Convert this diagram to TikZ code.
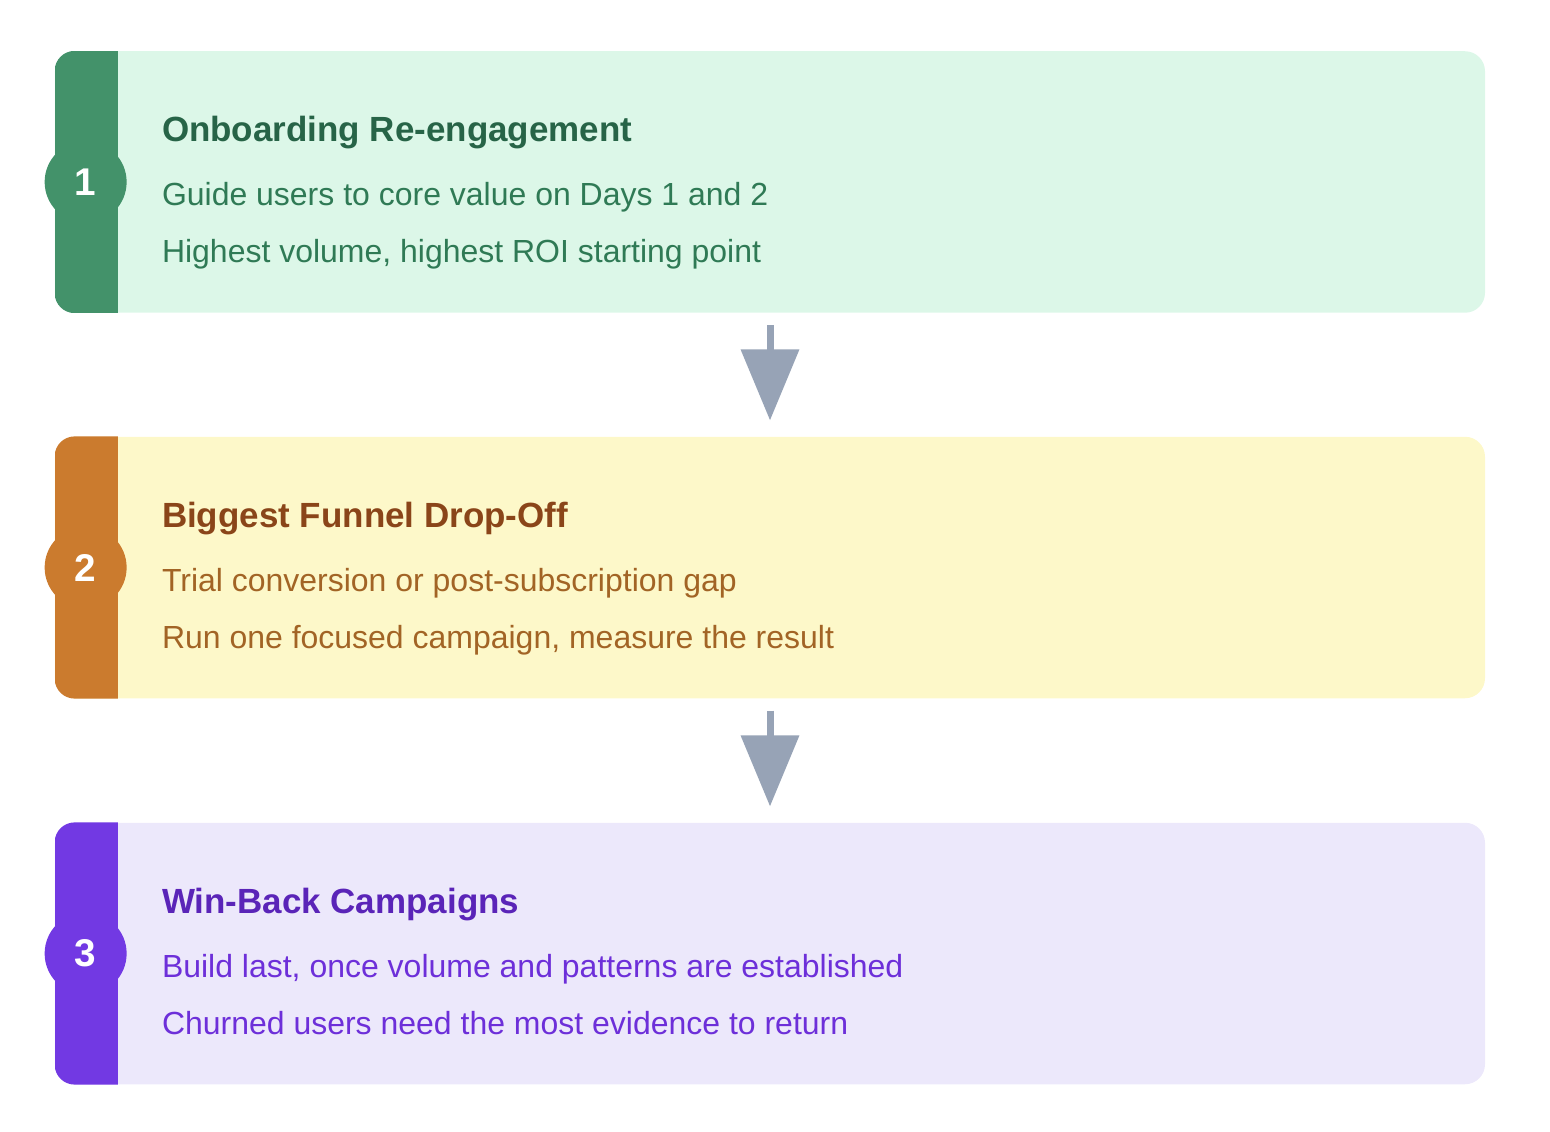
\documentclass[tikz,border=0pt]{standalone}
\usepackage{fontspec}
\setmainfont{Liberation Sans}
\usetikzlibrary{arrows.meta}

\definecolor{greenbg}{HTML}{DCF7E8}
\definecolor{greenbar}{HTML}{43926A}
\definecolor{greenhead}{HTML}{276447}
\definecolor{greentext}{HTML}{2F7A55}
\definecolor{yellowbg}{HTML}{FDF8C9}
\definecolor{orangebar}{HTML}{CB7B2E}
\definecolor{orangehead}{HTML}{8A4519}
\definecolor{orangetext}{HTML}{A26425}
\definecolor{purplebg}{HTML}{ECE8FB}
\definecolor{purplebar}{HTML}{7239E3}
\definecolor{purplehead}{HTML}{5A24B8}
\definecolor{purpletext}{HTML}{6D2FD9}
\definecolor{arrowgray}{HTML}{97A3B6}

\tikzset{
  card/.style={minimum width=28.6cm, minimum height=5.23cm, rounded corners=0.4cm, inner sep=0pt},
  badge/.style={circle, minimum size=1.64cm, inner sep=0pt, text=white,
    font=\fontsize{22}{26}\selectfont\bfseries},
  stagehead/.style={anchor=base west, inner sep=0pt, font=\fontsize{19.9}{24}\selectfont\bfseries},
  stageline/.style={anchor=base west, inner sep=0pt, font=\fontsize{18.2}{22}\selectfont},
  flow/.style={draw=arrowgray, line width=0.14cm,
    -{Triangle[length=1.42cm, width=1.14cm]}}
}

\begin{document}
\begin{tikzpicture}
\useasboundingbox (0,0) rectangle (31,-22.64);

\node[card, fill=greenbg] (c1) at (15.4,-3.64) {};
\node[card, fill=yellowbg] (c2) at (15.4,-11.35) {};
\node[card, fill=purplebg] (c3) at (15.4,-19.07) {};

\begin{scope}
    \clip[rounded corners=0.4cm] (c1.north west) rectangle (c1.south east);
    \fill[greenbar] (c1.north west) rectangle ([xshift=1.26cm]c1.south west);
\end{scope}
\begin{scope}
    \clip[rounded corners=0.4cm] (c2.north west) rectangle (c2.south east);
    \fill[orangebar] (c2.north west) rectangle ([xshift=1.26cm]c2.south west);
\end{scope}
\begin{scope}
    \clip[rounded corners=0.4cm] (c3.north west) rectangle (c3.south east);
    \fill[purplebar] (c3.north west) rectangle ([xshift=1.26cm]c3.south west);
\end{scope}

\node[badge, fill=greenbar] (b1) at ([xshift=0.62cm]c1.west) {1};
\node[badge, fill=orangebar] (b2) at ([xshift=0.62cm]c2.west) {2};
\node[badge, fill=purplebar] (b3) at ([xshift=0.62cm]c3.west) {3};

% stage 1
\node[stagehead, text=greenhead] (h1) at ([shift={(2.14,0.8)}]c1.west) {Onboarding Re-engagement};
\node[stageline, text=greentext] (l1a) at ([shift={(2.14,-0.48)}]c1.west) {Guide users to core value on Days 1 and 2};
\node[stageline, text=greentext] (l1b) at ([shift={(2.14,-1.62)}]c1.west) {Highest volume, highest ROI starting point};

% stage 2
\node[stagehead, text=orangehead] (h2) at ([shift={(2.14,0.8)}]c2.west) {Biggest Funnel Drop-Off};
\node[stageline, text=orangetext] (l2a) at ([shift={(2.14,-0.48)}]c2.west) {Trial conversion or post-subscription gap};
\node[stageline, text=orangetext] (l2b) at ([shift={(2.14,-1.62)}]c2.west) {Run one focused campaign, measure the result};

% stage 3
\node[stagehead, text=purplehead] (h3) at ([shift={(2.14,0.8)}]c3.west) {Win-Back Campaigns};
\node[stageline, text=purpletext] (l3a) at ([shift={(2.14,-0.48)}]c3.west) {Build last, once volume and patterns are established};
\node[stageline, text=purpletext] (l3b) at ([shift={(2.14,-1.62)}]c3.west) {Churned users need the most evidence to return};

\draw[flow] ([yshift=-0.24cm]c1.south) -- ([yshift=0.32cm]c2.north);
\draw[flow] ([yshift=-0.24cm]c2.south) -- ([yshift=0.32cm]c3.north);
\end{tikzpicture}
\end{document}
